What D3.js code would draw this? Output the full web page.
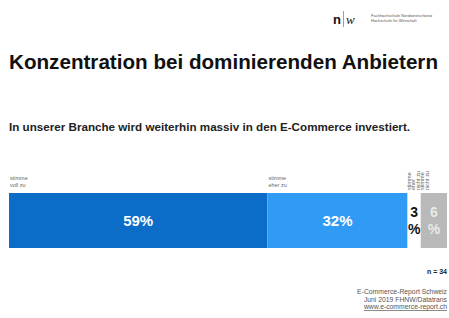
<!DOCTYPE html>
<html>
<head>
<meta charset="utf-8">
<script src="https://cdn.jsdelivr.net/npm/d3@7"></script>
<style>
  body { margin: 0; background: #fff; }
  svg { display: block; font-family: "Liberation Sans", Arial, sans-serif; }
</style>
</head>
<body>
<script>
"use strict";

// survey answers, left to right
let categories = ['stimme voll zu', 'stimme eher zu', 'stimme eher nicht zu', 'stimme nicht zu'];
let labelLines = [['stimme', 'voll zu'], ['stimme', 'eher zu'], ['stimme', 'eher', 'nicht zu'], ['stimme', 'nicht zu']];
let values = [59, 32, 3, 6];
let colors = ['#0b6dc8', '#2f9bf4', '#ffffff', '#b9b9b9'];
let textColors = ['#ffffff', '#ffffff', '#111111', '#e9e9e9'];
let footerLines = ['E-Commerce-Report Schweiz', 'Juni 2019 FHNW/Datatrans', 'www.e-commerce-report.ch'];

(function() {

let width = 449;
let height = 318;

let svg = d3.select('body')
    .append('svg')
    .attr('width', width)
    .attr('height', height);

// logo
let logo = svg.append('g');
logo.append('text')
    .attr('x', 333).attr('y', 24)
    .attr('font-size', 13).attr('font-weight', 'bold')
    .attr('fill', '#111')
    .text('n');
logo.append('line')
    .attr('x1', 343.5).attr('x2', 343.5)
    .attr('y1', 11).attr('y2', 27)
    .attr('stroke', '#888').attr('stroke-width', 0.8);
logo.append('text')
    .attr('x', 346).attr('y', 24)
    .attr('font-size', 13).attr('font-style', 'italic')
    .attr('font-family', '"Liberation Serif", serif')
    .attr('fill', '#111')
    .text('w');
logo.selectAll('.logotext')
    .data(['Fachhochschule Nordwestschweiz', 'Hochschule für Wirtschaft'])
    .enter()
    .append('text')
    .attr('x', 371)
    .attr('y', function(d, i) { return 17 + i * 5; })
    .attr('font-size', 4)
    .attr('fill', '#555')
    .text(function(d) { return d; });

svg.append('text')
    .attr('x', 9).attr('y', 69)
    .attr('font-size', 20).attr('font-weight', 'bold')
    .attr('textLength', 429).attr('lengthAdjust', 'spacingAndGlyphs')
    .attr('fill', '#111')
    .text('Konzentration bei dominierenden Anbietern');

svg.append('text')
    .attr('x', 9).attr('y', 131)
    .attr('font-size', 10.5).attr('font-weight', 'bold')
    .attr('textLength', 401).attr('lengthAdjust', 'spacingAndGlyphs')
    .attr('fill', '#222')
    .text('In unserer Branche wird weiterhin massiv in den E-Commerce investiert.');

// stacked bar
let starts = [];
values.reduce(function(acc, v, i) { starts[i] = acc; return acc + v; }, 0);
let data = categories.map(function(c, i) {
    return { cat: c, value: values[i], start: starts[i], lines: labelLines[i], color: colors[i], text: textColors[i] };
});

let x = d3.scaleLinear()
    .domain([0, d3.sum(values)])
    .range([9, 447]);

let barTop = 193;
let barH = 55;

svg.selectAll('.seg')
    .data(data)
    .enter()
    .append('rect')
    .attr('class', 'seg')
    .attr('x', function(d) { return x(d.start); })
    .attr('y', barTop)
    .attr('width', function(d) { return x(d.start + d.value) - x(d.start); })
    .attr('height', barH)
    .attr('fill', function(d) { return d.color; });

// value labels: wide segments on one line, narrow ones split
data.forEach(function(d) {
    let cx = x(d.start + d.value / 2);
    let w = x(d.start + d.value) - x(d.start);
    let t = svg.append('text')
        .attr('text-anchor', 'middle')
        .attr('font-weight', 'bold')
        .attr('fill', d.text);
    if (w > 40) {
        t.attr('x', cx).attr('y', barTop + barH / 2 + 5)
            .attr('font-size', 15)
            .text(d.value + '%');
    } else {
        t.attr('font-size', 14);
        t.append('tspan').attr('x', cx).attr('y', barTop + 24).text(d.value);
        t.append('tspan').attr('x', cx).attr('y', barTop + 41).text('%');
    }
});

// category labels
data.forEach(function(d) {
    let w = x(d.start + d.value) - x(d.start);
    if (w > 40) {
        svg.append('text')
            .attr('font-size', 5.5)
            .attr('fill', '#666')
            .selectAll('tspan')
            .data(d.lines)
            .enter()
            .append('tspan')
            .attr('x', x(d.start) + 1)
            .attr('y', function(l, i) { return 180 + i * 7; })
            .text(function(l) { return l; });
    } else {
        let px = x(d.start) - 1;
        svg.append('text')
            .attr('font-size', 5.5)
            .attr('fill', '#666')
            .attr('transform', 'translate(' + px + ',' + (barTop - 3) + ') rotate(-90)')
            .selectAll('tspan')
            .data(d.lines)
            .enter()
            .append('tspan')
            .attr('x', 0)
            .attr('y', function(l, i) { return 4.5 + i * 4.3; })
            .text(function(l) { return l; });
    }
});

svg.append('text')
    .attr('x', 447).attr('y', 274)
    .attr('text-anchor', 'end')
    .attr('font-size', 7).attr('font-weight', 'bold')
    .attr('fill', '#222')
    .text('n = 34');

svg.selectAll('.foot')
    .data(footerLines)
    .enter()
    .append('text')
    .attr('class', 'foot')
    .attr('x', 447)
    .attr('y', function(d, i) { return 294 + i * 7.5; })
    .attr('text-anchor', 'end')
    .attr('font-size', 6.8)
    .attr('fill', '#555')
    .attr('text-decoration', function(d, i) { return i === 2 ? 'underline' : null; })
    .text(function(d) { return d; });

})();
</script>
</body>
</html>
